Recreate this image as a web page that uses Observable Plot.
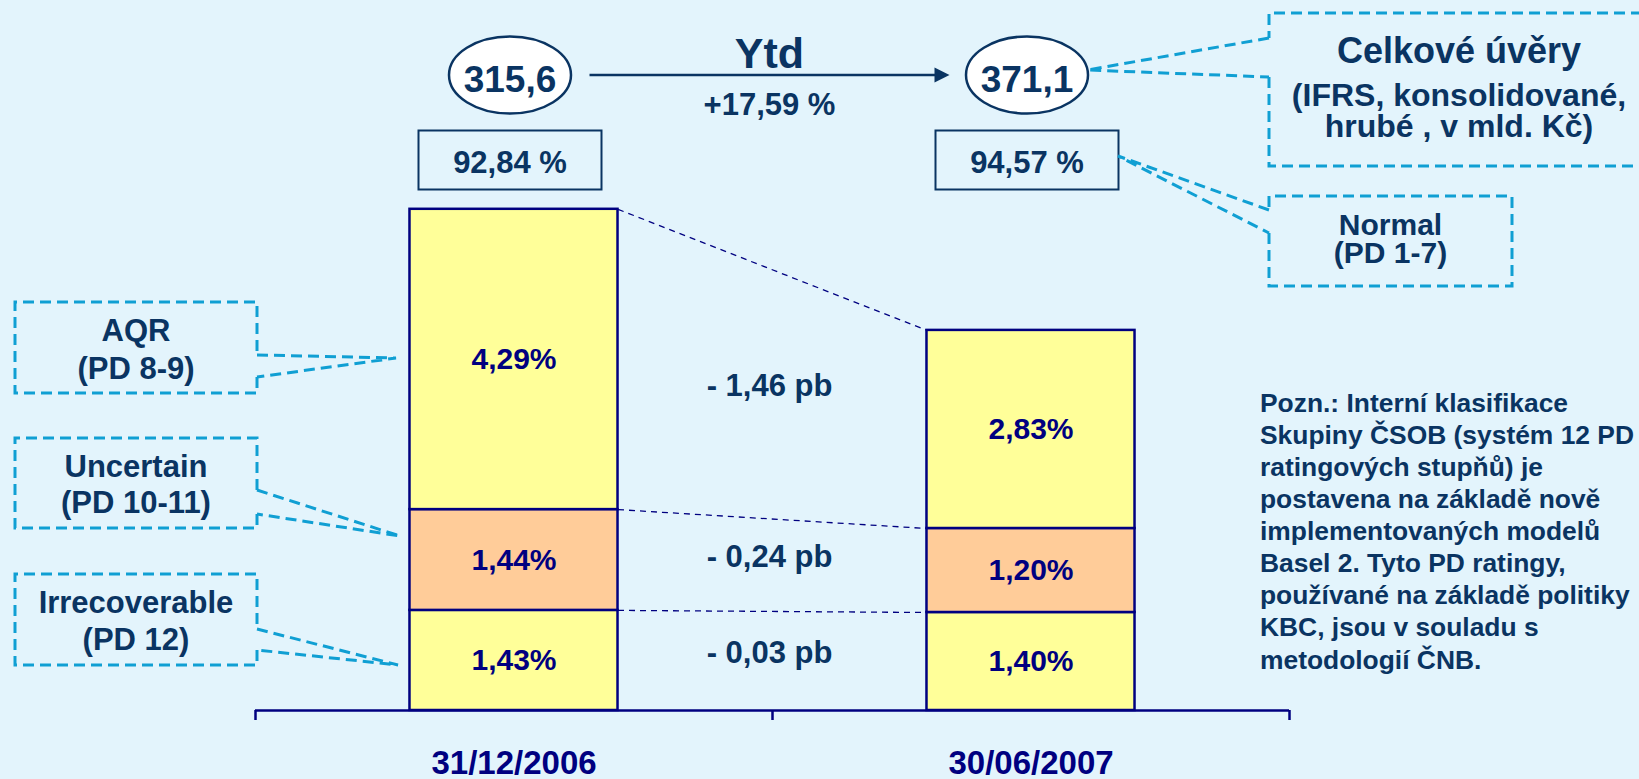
<!DOCTYPE html>
<html>
<head>
<meta charset="utf-8">
<script src="https://cdn.jsdelivr.net/npm/d3@7"></script>
<script src="https://cdn.jsdelivr.net/npm/@observablehq/plot@0.6"></script>
<style>
  html, body { margin: 0; padding: 0; background: #E3F4FC; overflow: hidden; }
  #chart svg { display: block; }
</style>
</head>
<body>
<div id="chart"></div>
<script>
// ---------------- DATA ----------------
const dates = ["31/12/2006", "30/06/2007"];
const categories = ["Irrecoverable", "Uncertain", "AQR"];          // bottom → top of each bar
const irrecoverable = [1.43, 1.40];                                  // % of loans (PD 12)
const uncertain = [1.44, 1.20];                                      // % of loans (PD 10-11)
const aqr = [4.29, 2.83];                                            // % of loans (PD 8-9)
const totalLoans = [315.6, 371.1];                                   // mld. Kč
const categoryLabels = {
  AQR: ["AQR", "(PD 8-9)"],
  Uncertain: ["Uncertain", "(PD 10-11)"],
  Irrecoverable: ["Irrecoverable", "(PD 12)"]
};
const totalLabel = ["Celkové úvěry", "(IFRS, konsolidované,", "hrubé , v mld. Kč)"];
const normalLabel = ["Normal", "(PD 1-7)"];
const changeLabel = "Ytd";
const noteLines = [
  "Pozn.: Interní klasifikace",
  "Skupiny ČSOB (systém 12 PD",
  "ratingových stupňů) je",
  "postavena na základě nově",
  "implementovaných modelů",
  "Basel 2. Tyto PD ratingy,",
  "používané na základě politiky",
  "KBC, jsou v souladu s",
  "metodologií ČNB."
];

// ---------------- STYLE ----------------
const FONT = "'Liberation Sans', Arial, Helvetica, sans-serif";
const BG = "#E3F4FC", NAVY = "#000080", DARK = "#0A3462", CYAN = "#109FD3";
const YELLOW = "#FFFF99", ORANGE = "#FFCC99";

// ---------------- DERIVED TABLES ----------------
const fmt = (v, d) => v.toFixed(d).replace(".", ",");
const series = [irrecoverable, uncertain, aqr];
const segments = [];
const tops = [[], []];
dates.forEach((date, i) => {
  let base = 0;
  series.forEach((vals, k) => {
    const v = vals[i];
    segments.push({i, date, category: categories[k], value: v, y1: base, y2: base + v, mid: base + v / 2});
    base += v;
    tops[i].push(base);
  });
});
const boundaries = categories.map((c, k) => ({b1: tops[0][k], b2: tops[1][k]}));
const deltas = categories.map((c, k) => {
  const d = series[k][1] - series[k][0];
  const m1 = segments.find(s => s.i === 0 && s.category === c).mid;
  const m2 = segments.find(s => s.i === 1 && s.category === c).mid;
  return {label: `${d < 0 ? "-" : "+"} ${fmt(Math.abs(d), 2)} pb`, y: (m1 + m2) / 2};
});
const normalShare = dates.map((d, i) => 100 - tops[i][tops[i].length - 1]);
const ytd = (totalLoans[1] / totalLoans[0] - 1) * 100;

// ---------------- SYMBOLS ----------------
const ellipseSymbol = {draw(ctx) {
  const rx = 61, ry = 38.5, k = 0.5523;
  ctx.moveTo(rx, 0);
  ctx.bezierCurveTo(rx, ry * k, rx * k, ry, 0, ry);
  ctx.bezierCurveTo(-rx * k, ry, -rx, ry * k, -rx, 0);
  ctx.bezierCurveTo(-rx, -ry * k, -rx * k, -ry, 0, -ry);
  ctx.bezierCurveTo(rx * k, -ry, rx, -ry * k, rx, 0);
  ctx.closePath();
}};
const boxSymbol = {draw(ctx) { const w = 183, h = 59; ctx.rect(-w / 2, -h / 2, w, h); }};

const hw = 0.2012; // half bar width in band units
const idx = (d, i) => i;

const plot = Plot.plot({
  width: 1639,
  height: 779,
  marginTop: 10,
  marginBottom: 69,
  marginLeft: 255,
  marginRight: 350,
  x: {type: "linear", domain: [-0.5, 1.5]},
  y: {domain: [0, 10], axis: null},
  color: {domain: categories, range: [YELLOW, ORANGE, YELLOW]},
  style: {background: "transparent", fontFamily: FONT, overflow: "visible"},
  marks: [
    Plot.link(boundaries, {x1: () => 0 + hw, x2: () => 1 - hw, y1: "b1", y2: "b2",
      stroke: NAVY, strokeWidth: 1.3, strokeDasharray: "6,5"}),
    Plot.rectY(segments, {x1: d => d.i - hw, x2: d => d.i + hw, y1: "y1", y2: "y2",
      fill: "category", stroke: NAVY, strokeWidth: 2.5, inset: 0}),
    Plot.text(segments, {x: "i", y: "mid", text: d => fmt(d.value, 2) + "%",
      fontSize: 30, fontWeight: "bold", fill: NAVY}),
    Plot.ruleY([0], {stroke: NAVY, strokeWidth: 2.5}),
    Plot.axisX({ticks: [-0.5, 0.5, 1.5], tickSize: 10, tickFormat: () => "", label: null,
      stroke: NAVY, strokeWidth: 2.5}),
    Plot.text(dates, {x: idx, text: d => d, frameAnchor: "bottom", dy: 63, lineAnchor: "bottom",
      fontSize: 33, fontWeight: "bold", fill: NAVY}),
    Plot.text(deltas, {x: () => 0.5, y: "y", text: "label", dy: -8, dx: -3,
      fontSize: 31, fontWeight: "bold", fill: DARK}),
    // totals in ellipses
    Plot.dot(totalLoans, {x: idx, frameAnchor: "top", dy: 64.5, dx: -4, symbol: ellipseSymbol,
      fill: "white", stroke: DARK, strokeWidth: 2.5}),
    Plot.text(totalLoans, {x: idx, frameAnchor: "top", dy: 81, dx: -4, lineAnchor: "bottom",
      text: d => fmt(d, 1), fontSize: 37, fontWeight: "bold", fill: DARK}),
    // normal share boxes
    Plot.dot(normalShare, {x: idx, frameAnchor: "top", dy: 149.5, dx: -4, symbol: boxSymbol,
      fill: "none", stroke: DARK, strokeWidth: 2}),
    Plot.text(normalShare, {x: idx, frameAnchor: "top", dy: 162.5, dx: -4, lineAnchor: "bottom",
      text: d => fmt(d, 2) + " %", fontSize: 31, fontWeight: "bold", fill: DARK}),
    // Ytd
    Plot.text([changeLabel], {x: () => 0.5, frameAnchor: "top", dy: 57, dx: -3, lineAnchor: "bottom",
      text: d => d, fontSize: 43, fontWeight: "bold", fill: DARK}),
    Plot.text([ytd], {x: () => 0.5, frameAnchor: "top", dy: 104, dx: -3, lineAnchor: "bottom",
      text: d => "+" + fmt(d, 2) + " %", fontSize: 31, fontWeight: "bold", fill: DARK})
  ]
});

document.getElementById("chart").appendChild(plot);

// ---------------- ANNOTATIONS ----------------
const xs = plot.scale("x");
const svg = d3.select(plot);
const g = svg.append("g").attr("font-family", FONT).attr("font-weight", "bold").attr("fill", DARK);

// Ytd arrow between ellipses
const ax0 = xs.apply(0) - 4 + 61 + 19, ax1 = xs.apply(1) - 4 - 61 - 16, ay = 75;
g.append("line").attr("x1", ax0).attr("x2", ax1 - 12).attr("y1", ay).attr("y2", ay)
  .attr("stroke", DARK).attr("stroke-width", 2.5);
g.append("path").attr("d", `M${ax1},${ay}L${ax1 - 15},${ay - 7.5}L${ax1 - 15},${ay + 7.5}Z`).attr("fill", DARK);

function callout(c) {
  const {x0, x1, y0, y1, side, g1, g2, target, lines, cx} = c;
  const pts = side === "right"
    ? [[x1, g2], [x1, y1], [x0, y1], [x0, y0], [x1, y0], [x1, g1]]
    : [[x0, g2], [x0, y1], [x1, y1], [x1, y0], [x0, y0], [x0, g1]];
  const ex = side === "right" ? x1 : x0;
  const dashed = sel => sel.attr("fill", "none").attr("stroke", CYAN).attr("stroke-width", 3).attr("stroke-dasharray", "11,6");
  g.append("path").attr("d", d3.line()(pts)).call(dashed);
  g.append("path").attr("d", d3.line()([[ex, g1], target, [ex, g2]])).call(dashed);
  lines.forEach(l => g.append("text").attr("x", cx).attr("y", l.y).attr("text-anchor", "middle")
    .attr("font-size", l.size).text(l.t));
}

callout({x0: 15, x1: 257, y0: 302, y1: 393, side: "right", g1: 355, g2: 377, target: [396, 358], cx: 136,
  lines: [{t: categoryLabels.AQR[0], y: 341, size: 31}, {t: categoryLabels.AQR[1], y: 379, size: 31}]});
callout({x0: 15, x1: 257, y0: 438, y1: 528, side: "right", g1: 490, g2: 514, target: [400, 536], cx: 136,
  lines: [{t: categoryLabels.Uncertain[0], y: 477, size: 31}, {t: categoryLabels.Uncertain[1], y: 513, size: 31}]});
callout({x0: 15, x1: 257, y0: 574, y1: 665, side: "right", g1: 629, g2: 650, target: [398, 665], cx: 136,
  lines: [{t: categoryLabels.Irrecoverable[0], y: 613, size: 31}, {t: categoryLabels.Irrecoverable[1], y: 650, size: 31}]});
callout({x0: 1269, x1: 1649, y0: 13, y1: 166, side: "left", g1: 38, g2: 77,
  target: [xs.apply(1) - 4 + 61, 70], cx: 1459,
  lines: [{t: totalLabel[0], y: 63, size: 36}, {t: totalLabel[1], y: 106, size: 32}, {t: totalLabel[2], y: 137, size: 32}]});
callout({x0: 1269, x1: 1512, y0: 196, y1: 286, side: "left", g1: 210, g2: 233,
  target: [xs.apply(1) - 4 + 91.5, 156], cx: 1390.5,
  lines: [{t: normalLabel[0], y: 235, size: 30}, {t: normalLabel[1], y: 263, size: 30}]});

// note
const note = g.append("text").attr("font-size", 26.4).attr("text-anchor", "start");
noteLines.forEach((t, k) => note.append("tspan").attr("x", 1260).attr("y", 411.7 + k * 32.1)
  .attr("text-anchor", "start").text(t));
</script>
</body>
</html>
